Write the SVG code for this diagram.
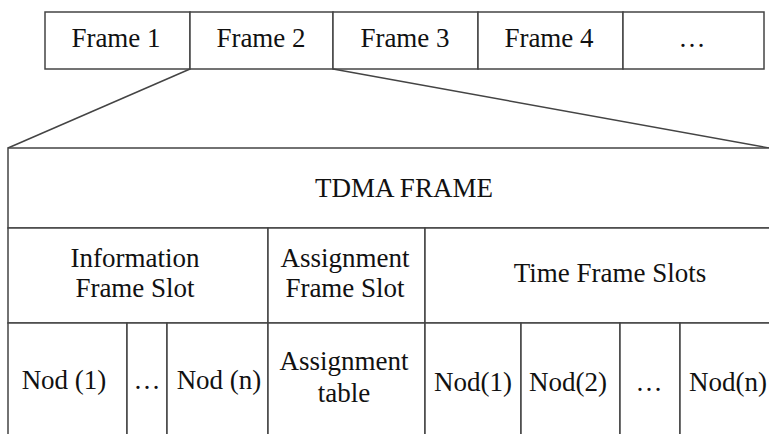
<svg xmlns="http://www.w3.org/2000/svg" width="769" height="434" viewBox="0 0 769 434">
<style>
.cell{fill:#fff;stroke:#444;stroke-width:1.5}
.ln{stroke:#444;stroke-width:1.5;fill:none}
.t{font-family:'Liberation Serif','Tinos','Times New Roman','DejaVu Serif',serif;font-size:27px;fill:#111;text-anchor:middle}
</style>
<rect width="769" height="434" fill="#fff"/>
<g id="frames">
  <g id="frame1"><rect class="cell" x="45" y="12" width="145" height="57"/><text class="t" x="116" y="47">Frame 1</text></g>
  <g id="frame2"><rect class="cell" x="190" y="12" width="143" height="57"/><text class="t" x="261" y="47">Frame 2</text></g>
  <g id="frame3"><rect class="cell" x="333" y="12" width="145" height="57"/><text class="t" x="405" y="47">Frame 3</text></g>
  <g id="frame4"><rect class="cell" x="478" y="12" width="145" height="57"/><text class="t" x="549" y="47">Frame 4</text></g>
  <g id="frame-more"><rect class="cell" x="623" y="12" width="141" height="57"/><text class="t" x="692" y="47">…</text></g>
</g>
<g id="connectors">
  <line class="ln" x1="190" y1="69" x2="8" y2="148"/>
  <line class="ln" x1="333" y1="69" x2="769" y2="148"/>
</g>
<g id="tdma-frame">
  <rect class="cell" x="8" y="148" width="775" height="80"/>
  <text class="t" x="404" y="197">TDMA FRAME</text>
</g>
<g id="info-slot">
  <rect class="cell" x="8" y="228" width="260" height="95"/>
  <text class="t" x="135" y="267">Information</text>
  <text class="t" x="135" y="297">Frame Slot</text>
</g>
<g id="assign-slot">
  <rect class="cell" x="268" y="228" width="157" height="95"/>
  <text class="t" x="345" y="267">Assignment</text>
  <text class="t" x="345" y="297">Frame Slot</text>
</g>
<g id="time-slots">
  <rect class="cell" x="425" y="228" width="360" height="95"/>
  <text class="t" x="610" y="282">Time Frame Slots</text>
</g>
<g id="info-nod1">
  <rect class="cell" x="8" y="323" width="119" height="120"/>
  <text class="t" x="64" y="389">Nod (1)</text>
</g>
<g id="info-dots">
  <rect class="cell" x="127" y="323" width="40" height="120"/>
  <text class="t" x="147" y="389">…</text>
</g>
<g id="info-nodn">
  <rect class="cell" x="167" y="323" width="101" height="120"/>
  <text class="t" x="219" y="389">Nod (n)</text>
</g>
<g id="assign-table">
  <rect class="cell" x="268" y="323" width="157" height="120"/>
  <text class="t" x="344" y="370">Assignment</text>
  <text class="t" x="344" y="402">table</text>
</g>
<g id="time-nod1">
  <rect class="cell" x="425" y="323" width="96" height="120"/>
  <text class="t" x="473" y="391">Nod(1)</text>
</g>
<g id="time-nod2">
  <rect class="cell" x="521" y="323" width="99" height="120"/>
  <text class="t" x="568" y="391">Nod(2)</text>
</g>
<g id="time-dots">
  <rect class="cell" x="620" y="323" width="60" height="120"/>
  <text class="t" x="649" y="391">…</text>
</g>
<g id="time-nodn">
  <rect class="cell" x="680" y="323" width="105" height="120"/>
  <text class="t" x="728" y="391">Nod(n)</text>
</g>
</svg>
